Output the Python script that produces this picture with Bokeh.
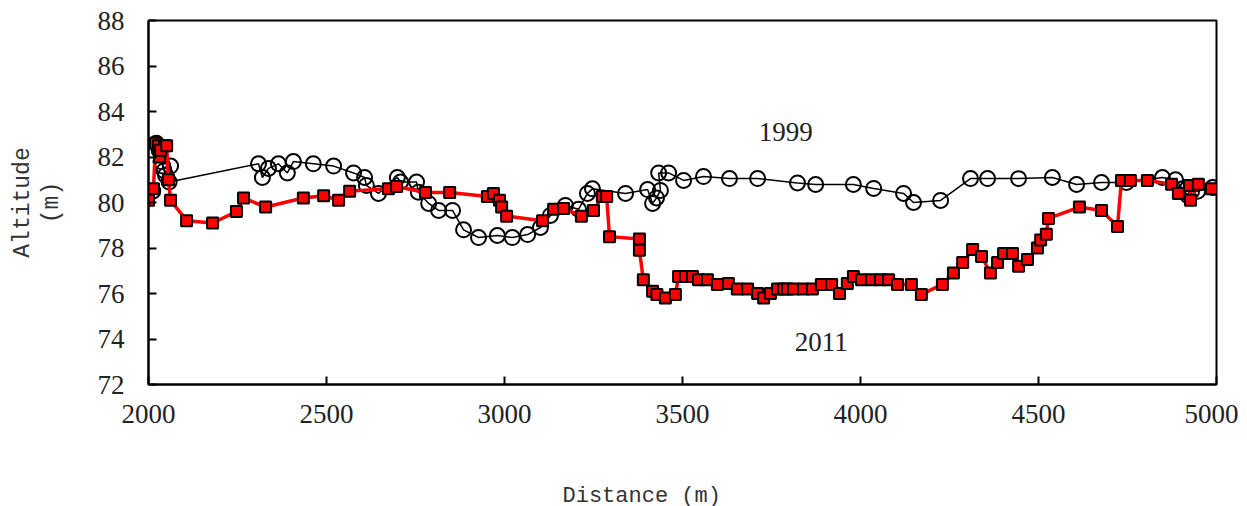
from bokeh.plotting import figure
from bokeh.models import Range1d, Label, FixedTicker, Title
from bokeh.embed import file_html
from bokeh.resources import INLINE

# 1999 survey
dist_1999 = [2012, 2022, 2030, 2035, 2040, 2044, 2048, 2062, 2058, 2309, 2320, 2337, 2365,
             2390, 2407, 2463, 2520, 2576, 2607, 2612, 2646, 2699, 2708, 2753, 2758, 2787,
             2815, 2854, 2885, 2927, 2980, 3022, 3065, 3101, 3129, 3171, 3208, 3233, 3247,
             3340, 3402, 3416, 3427, 3438, 3433, 3461, 3503, 3559, 3632, 3711, 3823, 3874,
             3980, 4037, 4121, 4149, 4225, 4309, 4357, 4444, 4539, 4607, 4677, 4747, 4848,
             4885, 4905, 4920, 4930, 4947, 4989, 5040]
alt_1999 = [80.5, 82.6, 82.3, 81.8, 81.6, 81.4, 81.2, 81.6, 80.9, 81.7, 81.1, 81.5, 81.7,
            81.3, 81.8, 81.7, 81.6, 81.3, 81.1, 80.75, 80.4, 81.1, 80.9, 80.9, 80.45, 79.96,
            79.65, 79.65, 78.8, 78.46, 78.55, 78.46, 78.59, 78.9, 79.43, 79.87, 79.7, 80.4, 80.6,
            80.4, 80.57, 79.96, 80.2, 80.53, 81.3, 81.3, 80.97, 81.14, 81.05, 81.05, 80.86, 80.79,
            80.79, 80.62, 80.4, 80.0, 80.09, 81.05, 81.05, 81.05, 81.1, 80.79, 80.88, 80.88, 81.1,
            81.0, 80.6, 80.3, 80.5, 80.5, 80.66, 81.1]

# 2011 survey
dist_2011 = [2000, 2014, 2020, 2028, 2045, 2031, 2034, 2051, 2056, 2062, 2107, 2180, 2247,
             2267, 2329, 2435, 2492, 2534, 2565, 2674, 2697, 2778, 2846, 2952, 2969, 2986,
             2992, 3006, 3107, 3138, 3166, 3216, 3250, 3275, 3287, 3295, 3379, 3379, 3390,
             3416, 3428, 3452, 3480, 3489, 3508, 3528, 3545, 3570, 3598, 3629, 3654, 3683,
             3711, 3728, 3747, 3767, 3784, 3795, 3812, 3840, 3865, 3890, 3919, 3941, 3963,
             3980, 4003, 4031, 4056, 4079, 4104, 4143, 4171, 4230, 4261, 4287, 4315, 4340,
             4365, 4385, 4402, 4427, 4444, 4469, 4497, 4506, 4522, 4528, 4615, 4677, 4722,
             4733, 4758, 4806, 4874, 4893, 4924, 4927, 4949, 4986]
alt_2011 = [80.1, 80.6, 82.6, 82.5, 82.5, 82.0, 82.3, 82.5, 81.0, 80.1, 79.2, 79.1, 79.6,
            80.2, 79.8, 80.2, 80.3, 80.1, 80.5, 80.6, 80.7, 80.44, 80.44, 80.26, 80.4, 80.1,
            79.8, 79.4, 79.2, 79.7, 79.74, 79.4, 79.65, 80.26, 80.26, 78.5, 78.4, 77.9, 76.6,
            76.1, 75.96, 75.8, 75.96, 76.75, 76.75, 76.75, 76.6, 76.6, 76.4, 76.44, 76.2, 76.2,
            76.0, 75.8, 76.0, 76.2, 76.2, 76.2, 76.2, 76.2, 76.2, 76.4, 76.4, 76.0, 76.44,
            76.75, 76.6, 76.6, 76.6, 76.6, 76.4, 76.4, 75.96, 76.4, 76.9, 77.36, 77.93, 77.63,
            76.9, 77.36, 77.76, 77.76, 77.2, 77.5, 78.0, 78.35, 78.6, 79.3, 79.8, 79.65, 78.95,
            80.97, 80.97, 80.97, 80.8, 80.4, 80.75, 80.1, 80.8, 80.6]

x_ticks = [2000, 2500, 3000, 3500, 4000, 4500, 5000]
y_ticks = [72, 74, 76, 78, 80, 82, 84, 86, 88]

p = figure(frame_width=1068, frame_height=364, output_backend="svg", toolbar_location=None,
           x_range=Range1d(2000, 5000), y_range=Range1d(72, 88),
           min_border_left=148, min_border_top=20, min_border_right=22, min_border_bottom=0)

p.xgrid.visible = False
p.ygrid.visible = False
p.outline_line_color = "black"
p.outline_line_width = 2
p.outline_line_alpha = 1

for ax in (p.xaxis[0], p.yaxis[0]):
    ax.axis_line_width = 2
    ax.major_tick_in = 8
    ax.major_tick_out = 0
    ax.major_tick_line_width = 2
    ax.minor_tick_line_color = None
    ax.major_label_text_font = "Liberation Serif"
    ax.major_label_text_font_size = "27px"
    ax.major_label_text_color = "#222222"
    ax.axis_label_text_font = "Liberation Mono"
    ax.axis_label_text_font_size = "23px"
    ax.axis_label_text_font_style = "normal"
    ax.axis_label_text_color = "#333333"

p.xaxis.ticker = FixedTicker(ticks=x_ticks)
p.yaxis.ticker = FixedTicker(ticks=y_ticks)
p.xaxis.major_label_standoff = 20
p.yaxis.major_label_standoff = 24
p.yaxis.axis_label = "Altitude\n(m)"
p.yaxis.axis_label_text_line_height = 1.1
p.yaxis.axis_label_standoff = 30

p.line(dist_1999, alt_1999, line_color="black", line_width=1.5)
p.scatter(dist_1999, alt_1999, marker="circle", size=15, fill_color=None,
          line_color="black", line_width=2)

p.line(dist_2011, alt_2011, line_color="#ff0000", line_width=3.5)
p.scatter(dist_2011, alt_2011, marker="square", size=11, fill_color="#ff0000",
          line_color="black", line_width=2)

p.add_layout(Label(x=3790, y=83.1, text="1999", text_font="Liberation Serif",
                   text_font_size="27px", text_align="center", text_baseline="middle",
                   text_color="#222222"))
p.add_layout(Label(x=3890, y=73.85, text="2011", text_font="Liberation Serif",
                   text_font_size="27px", text_align="center", text_baseline="middle",
                   text_color="#222222"))

# x-axis title, placed as in the reference (left of the frame centre)
xtitle = Title(text="Distance (m)", align="left", offset=414, standoff=112,
               vertical_align="bottom",
               text_font="Liberation Mono", text_font_size="22px",
               text_font_style="normal", text_color="#333333")
p.add_layout(xtitle, "below")

open("out.html", "w").write(file_html(p, INLINE))
